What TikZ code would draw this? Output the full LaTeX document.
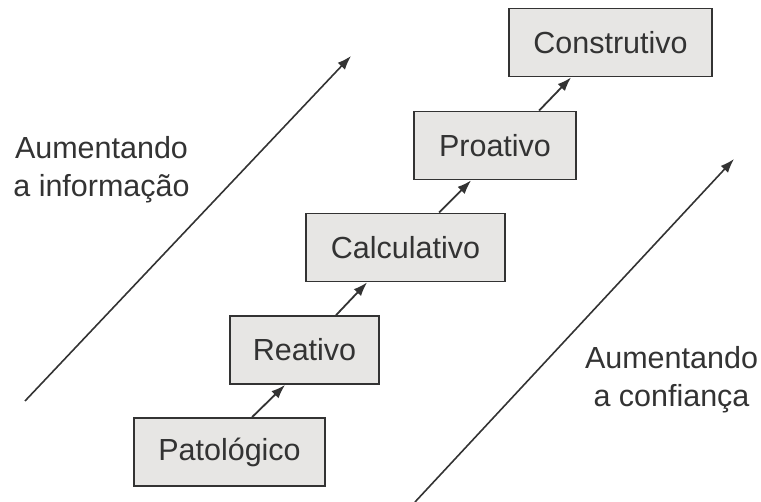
\documentclass[tikz,border=0pt]{standalone}
\usepackage{fontspec}
\setmainfont{Liberation Sans}
\usetikzlibrary{arrows.meta}
\definecolor{boxfill}{HTML}{E7E6E4}
\definecolor{ink}{HTML}{333333}
\begin{document}
\begin{tikzpicture}[x=1pt,y=-1pt,
  stagebox/.style={draw=ink, line width=1.8pt, fill=boxfill, minimum height=68pt,
    inner xsep=0pt, inner ysep=0pt, text=ink, font=\fontsize{30.5}{36}\selectfont},
  lbl/.style={align=center, text=ink, inner sep=0pt, font=\fontsize{30.5}{38}\selectfont},
  conn/.style={draw=ink, line width=1.8pt, -{Latex[length=14pt,width=10pt]}},
  longarrow/.style={draw=ink, line width=1.6pt, -{Latex[length=14pt,width=10pt]}}]
\useasboundingbox (0,0) rectangle (761,502);
\node[stagebox, minimum width=191pt] (pat) at (229.5,452) {Patológico};
\node[stagebox, minimum width=149pt] (rea) at (304.5,350) {Reativo};
\node[stagebox, minimum width=199pt] (cal) at (405.5,247.5) {Calculativo};
\node[stagebox, minimum width=162pt] (pro) at (495,145.5) {Proativo};
\node[stagebox, minimum width=203pt] (con) at (610.5,42.5) {Construtivo};
\draw[conn] ([xshift=119pt]pat.north west) -- ([xshift=56pt]rea.south west);
\draw[conn] ([xshift=107pt]rea.north west) -- ([xshift=62pt]cal.south west);
\draw[conn] ([xshift=134pt]cal.north west) -- ([xshift=58pt]pro.south west);
\draw[conn] ([xshift=126pt]pro.north west) -- ([xshift=63pt]con.south west);
\coordinate (infoS) at (25,401);
\coordinate (infoE) at (351,56);
\coordinate (confS) at (415,502);
\coordinate (confE) at (734,159);
\draw[longarrow] (infoS) -- (infoE);
\draw[longarrow] (confS) -- (confE);
\node[lbl] (info) at (101.5,170) {Aumentando\\a informação};
\node[lbl] (conf) at (671.5,380) {Aumentando\\a confiança};
\end{tikzpicture}
\end{document}
